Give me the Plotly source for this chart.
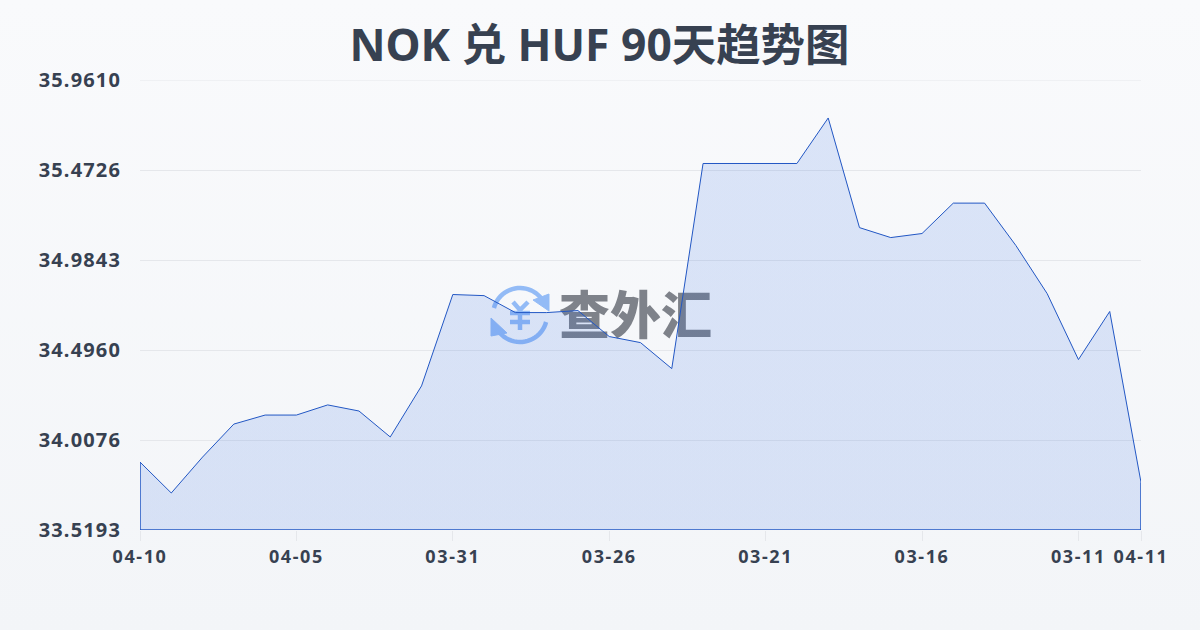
import math
import plotly.graph_objects as go

title = "NOK 兑 HUF 90天趋势图"
watermark = "查外汇"
values = [33.888, 33.720, 33.915, 34.094, 34.143, 34.143, 34.198, 34.165, 34.024,
          34.301, 34.797, 34.791, 34.699, 34.699, 34.710, 34.569, 34.536, 34.395,
          35.508, 35.508, 35.508, 35.508, 35.755, 35.160, 35.106, 35.128, 35.293,
          35.293, 35.063, 34.802, 34.444, 34.705, 33.778]
x_index = list(range(len(values)))
x_tick_pos = [0, 5, 10, 15, 20, 25, 30, 32]
x_tick_text = ["04-10", "04-05", "03-31", "03-26", "03-21", "03-16", "03-11", "04-11"]
y_ticks = [33.5193, 34.0076, 34.4960, 34.9843, 35.4726, 35.9610]
y_tick_text = ["33.5193", "34.0076", "34.4960", "34.9843", "35.4726", "35.9610"]

LINE = "#2257c4"
TEXT = "#374151"
FONT = "'Noto Sans', 'Noto Sans CJK SC', sans-serif"
W, H = 1200, 630
L, R, T, B = 140, 1141, 80, 530


def px(p):
    return (p - L) / (R - L)


def py(p):
    return (B - p) / (B - T)


def path(points):
    return "M" + " L".join(f"{px(a):.5f},{py(b):.5f}" for a, b in points)


def arc(cx, cy, r, a0, a1, n=24):
    pts = []
    for i in range(n + 1):
        a = math.radians(a0 + (a1 - a0) * i / n)
        pts.append((cx + r * math.cos(a), cy + r * math.sin(a)))
    return pts


BLUE = "#93bbf6"
shapes = [dict(type="line", xref="paper", yref="y", x0=0, x1=1, y0=y_ticks[-1], y1=y_ticks[-1],
               line=dict(color="#e5e7eb", width=1), layer="below")]
for pts in [arc(520, 315, 27, 195, 335), arc(520, 315, 27, 15, 155),
            [(513, 302), (520, 310), (528, 302)], [(510, 313), (530, 313)],
            [(510, 322), (530, 322)], [(520, 310), (520, 330)]]:
    shapes.append(dict(type="path", path=path(pts), xref="paper", yref="paper",
                       line=dict(color=BLUE, width=4.5), layer="below"))
for pts in [[(533, 300), (549, 294), (549, 311)], [(491, 318), (507, 333), (491, 336)]]:
    shapes.append(dict(type="path", path=path(pts) + " Z", xref="paper", yref="paper",
                       fillcolor=BLUE, line=dict(color=BLUE, width=1), layer="below"))
shapes.append(dict(type="rect", xref="paper", yref="paper", x0=px(555), x1=px(716),
                   y0=py(346), y1=py(294), line=dict(width=0), fillcolor="rgba(0,0,0,0)",
                   layer="below",
                   label=dict(text=watermark, textposition="middle center",
                              font=dict(family="'Noto Sans CJK SC'", size=51,
                                        color="rgba(70,74,84,0.68)", weight=900))))

fig = go.Figure()
fig.add_trace(go.Scatter(
    x=x_index, y=values, mode="lines", fill="tozeroy",
    line=dict(color=LINE, width=1),
    fillgradient=dict(type="vertical", colorscale=[[0, "rgba(37,99,225,0.17)"], [1, "rgba(37,99,225,0.14)"]]),
    hoverinfo="skip", showlegend=False))
fig.add_trace(go.Scatter(
    x=[x_index[0], x_index[0], x_index[-1], x_index[-1]],
    y=[values[0], y_ticks[0], y_ticks[0], values[-1]],
    mode="lines", line=dict(color=LINE, width=1.5), hoverinfo="skip", showlegend=False))

fig.update_layout(
    width=W, height=H, margin=dict(l=L, r=W - R, t=T, b=H - B),
    paper_bgcolor="rgba(0,0,0,0)", plot_bgcolor="rgba(0,0,0,0)",
    font=dict(family=FONT, color=TEXT),
    title=dict(text=title, x=0.4995, xanchor="center", y=0.928, yanchor="middle",
               font=dict(family=FONT, size=44.4, color=TEXT, weight=700)),
    shapes=shapes,
    xaxis=dict(range=[x_index[0], x_index[-1]], tickmode="array", tickvals=x_tick_pos,
               ticktext=x_tick_text, ticks="outside", ticklen=10, tickcolor="#e5e7eb", tickwidth=1,
               showgrid=False, zeroline=False, showline=False,
               tickfont=dict(family=FONT, size=18, color=TEXT, weight=700)),
    yaxis=dict(range=[y_ticks[0], y_ticks[-1]], tickmode="array", tickvals=y_ticks,
               ticktext=y_tick_text, ticks="", ticklabelstandoff=18,
               showgrid=True, gridcolor="#e5e7eb", gridwidth=1, zeroline=False, showline=False,
               tickfont=dict(family=FONT, size=20, color=TEXT, weight=700)),
)

fig.write_html("out.html", config=dict(displayModeBar=False), post_script=(
    "var s=document.createElement('style');"
    "s.textContent='.ytick text{letter-spacing:1.15px}.xtick text{letter-spacing:1.6px}';"
    "document.head.appendChild(s);"
    "document.documentElement.style.height='100%';"
    "document.body.style.margin='0';document.body.style.overflow='hidden';"
    "document.body.style.height='100%';"
    "document.body.style.background='linear-gradient(180deg,#f9fafc 0%,#f3f5f8 100%)';"))
